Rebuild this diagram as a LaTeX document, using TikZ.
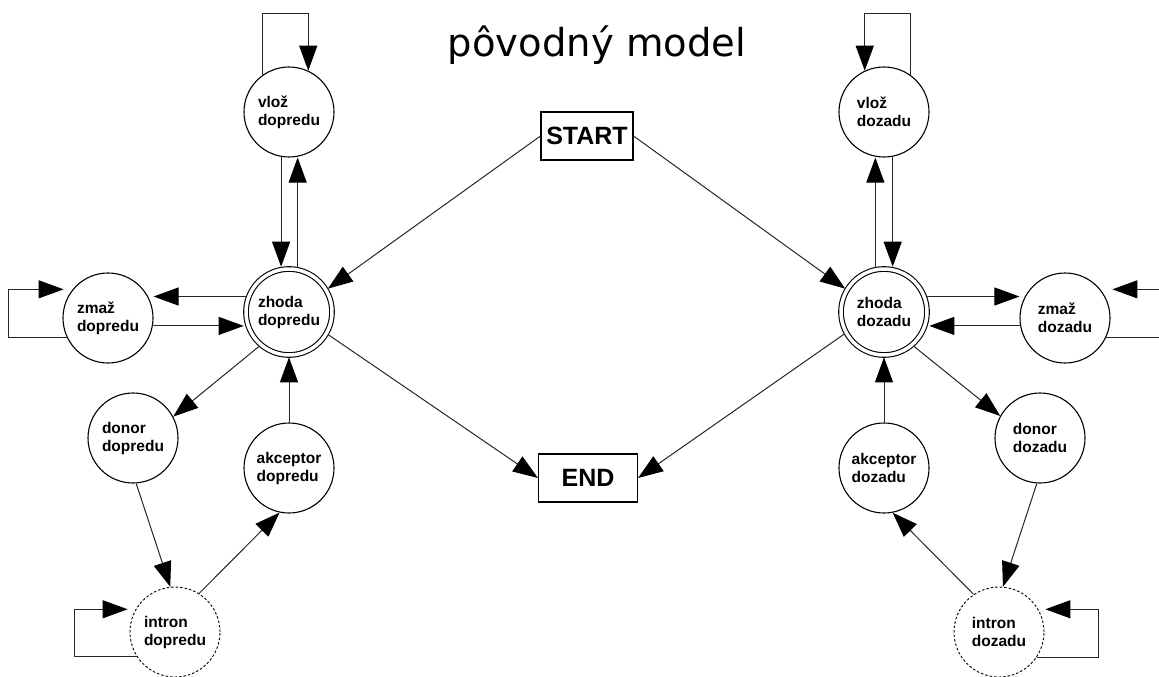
\documentclass[tikz,border=0pt]{standalone}
\usepackage{fontspec}
\setmainfont{Liberation Sans}
\newfontfamily\titlefont{DejaVu Sans}
\usepackage{tikz}
\usetikzlibrary{arrows.meta,calc,positioning}
\tikzstyle{link}  =[-{Triangle[length=25pt,width=18pt,black]},
                    line width=1pt, black!85]
\tikzstyle{state} =[circle, draw, minimum size=90pt,
                    line width=1.1pt, inner sep=0pt, align=left,
                    font=\fontsize{15.5}{18}\selectfont\bfseries]
\tikzstyle{match} =[state, double, double distance=3.5pt,
                    minimum size=86pt, outer sep=2.3pt]
\tikzstyle{hidden}=[state, line width=0.9pt,
                    dash pattern=on 2.5pt off 2pt]
\tikzstyle{term}  =[rectangle, draw, minimum height=48pt,
                    line width=1.1pt, inner sep=0pt,
                    font=\fontsize{25}{28}\selectfont\bfseries]

\begin{document}
\begin{tikzpicture}[x=1pt,y=-1pt]
    \useasboundingbox (0,0) rectangle (1159,677);

    \draw (597,57) node (title) [anchor=base] {\titlefont\fontsize{38.5}{44}\selectfont pôvodný model};
    \draw (587,136) node (start) [term,minimum width=92pt] {START};
    \draw (588,478) node (end) [term,minimum width=99pt] {END};

    % dopredu
    \draw (289,112) node (vlozD) [state] {vlož\\dopredu};
    \draw (289,312) node (zhodaD) [match] {zhoda\\dopredu};
    \draw (108,318) node (zmazD) [state] {zmaž\\dopredu};
    \draw (133,438) node (donorD) [state] {donor\\dopredu};
    \draw (289,468) node (akcD) [state] {akceptor\\dopredu};
    \draw (175,632) node (intronD) [hidden] {intron\\dopredu};

    % dozadu
    \draw (884,112) node (vlozZ) [state] {vlož\\dozadu};
    \draw (884,312) node (zhodaZ) [match] {zhoda\\dozadu};
    \draw (1065,318) node (zmazZ) [state] {zmaž\\dozadu};
    \draw (1040,438) node (donorZ) [state] {donor\\dozadu};
    \draw (884,468) node (akcZ) [state] {akceptor\\dozadu};
    \draw (999,632) node (intronZ) [hidden] {intron\\dozadu};

    \foreach \i/\j in{start.west/zhodaD.31,start.east/zhodaZ.149,
        zhodaD.330/end.west,zhodaZ.209/end.east,
        zhodaD.229/donorD.28,donorD.274/intronD.96,intronD.58/akcD.258,
        akcD.north/zhodaD.south,
        zhodaZ.311/donorZ.151,donorZ.266/intronZ.85,intronZ.124/akcZ.281,
        akcZ.north/zhodaZ.south}
        \draw [link] (\i) to (\j);

    \draw [link] (vlozD.-100) -- (vlozD.-100 |- zhodaD.north);
    \draw [link] (zhodaD.79) -- (zhodaD.79 |- vlozD.south);
    \draw [link] (zhodaD.160) -- (zhodaD.160 -| zmazD.east);
    \draw [link] (zmazD.-10) -- (zmazD.-10 -| zhodaD.west);
    \draw [link] (zhodaZ.101) -- (zhodaZ.101 |- vlozZ.south);
    \draw [link] (vlozZ.-79) -- (vlozZ.-79 |- zhodaZ.north);
    \draw [link] (zhodaZ.20) -- (zhodaZ.20 -| zmazZ.west);
    \draw [link] (zmazZ.190) -- (zmazZ.190 -| zhodaZ.east);

    % slucky
    \draw [link] (vlozD.125) -- ++(0,-61) -| (vlozD.65);
    \draw [link] (vlozZ.55) -- ++(0,-61) -| (vlozZ.115);
    \draw [link,shorten >=9pt] (zmazD.206) -- ++(-59,0) |- (zmazD.141);
    \draw [link,shorten >=12pt] (zmazZ.334) -- ++(80,0) |- (zmazZ.39);
    \draw [link,shorten >=8pt] (intronD.213) -- ++(-62,0) |- (intronD.150);
    \draw [link,shorten >=7pt] (intronZ.326) -- ++(62,0) |- (intronZ.30);
\end{tikzpicture}
\end{document}
